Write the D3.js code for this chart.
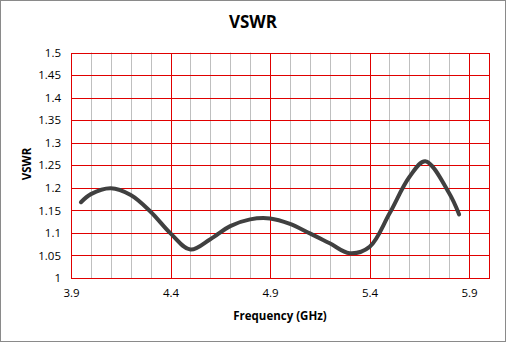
<!DOCTYPE html>
<html><head><meta charset="utf-8">
<script src="https://cdn.jsdelivr.net/npm/d3@7"></script>
<style>body{margin:0;background:#fff}svg{display:block}text{font-family:"Open Sans",Carlito,Calibri,sans-serif}</style>
</head><body>
<svg id="c" width="506" height="342"></svg>
<script>
const freq = [3.95, 4.0, 4.1, 4.2, 4.3, 4.4, 4.5, 4.6, 4.7, 4.8, 4.9, 5.0, 5.1, 5.2, 5.3, 5.4, 5.5, 5.6, 5.68, 5.8, 5.85];
const vswr = [1.168, 1.186, 1.199, 1.184, 1.147, 1.099, 1.063, 1.086, 1.115, 1.130, 1.132, 1.120, 1.099, 1.077, 1.055, 1.069, 1.143, 1.224, 1.259, 1.188, 1.141];
const xTicks = [3.9, 4.4, 4.9, 5.4, 5.9];
const yTicks = [1, 1.05, 1.1, 1.15, 1.2, 1.25, 1.3, 1.35, 1.4, 1.45, 1.5];
const minorX = [4.0, 4.1, 4.2, 4.3, 4.5, 4.6, 4.7, 4.8, 5.0, 5.1, 5.2, 5.3, 5.5, 5.6, 5.7, 5.8];
const majorX = [3.9, 4.4, 4.9, 5.4, 5.9, 6.0];

const svg = d3.select("#c");
const L = 71, R = 489, T = 52.5, B = 278;
const x = d3.scaleLinear().domain([3.9, 6.0]).range([L, R]);
const y = d3.scaleLinear().domain([1, 1.5]).range([B, T]);
const px = v => Math.round(v) + 0.5;

svg.append("rect").attr("x", 0.5).attr("y", 0.5).attr("width", 505).attr("height", 341)
  .attr("fill", "#fff").attr("stroke", "#8a8a8a");

svg.append("g").selectAll("line").data(minorX).join("line")
  .attr("x1", d => px(x(d))).attr("x2", d => px(x(d)))
  .attr("y1", T).attr("y2", B).attr("stroke", "#bfbfbf").attr("stroke-width", 1);
svg.append("g").selectAll("line").data(yTicks).join("line")
  .attr("x1", L).attr("x2", R + 1).attr("y1", d => px(y(d))).attr("y2", d => px(y(d)))
  .attr("stroke", "#e00000").attr("stroke-width", 1);
svg.append("g").selectAll("line").data(majorX).join("line")
  .attr("x1", d => px(x(d))).attr("x2", d => px(x(d)))
  .attr("y1", px(y(1.5))).attr("y2", px(y(1))).attr("stroke", "#e00000").attr("stroke-width", 1);

const xa = svg.append("g").attr("transform", `translate(0,${B})`)
  .call(d3.axisBottom(x).tickValues(xTicks).tickSize(0).tickPadding(11).tickFormat(d3.format("")));
xa.select(".domain").remove();
xa.selectAll("line").remove();
xa.selectAll("text").attr("font-size", 11.5).attr("fill", "#000");
const ya = svg.append("g").attr("transform", `translate(${L},0)`)
  .call(d3.axisLeft(y).tickValues(yTicks).tickSize(0).tickPadding(10).tickFormat(d3.format("")));
ya.select(".domain").remove();
ya.selectAll("line").remove();
ya.selectAll("text").attr("font-size", 11.5).attr("fill", "#000");

svg.append("path").datum(freq.map((f, i) => [f, vswr[i]]))
  .attr("fill", "none").attr("stroke", "#404040").attr("stroke-width", 4).attr("stroke-linecap", "round")
  .attr("d", d3.line().x(d => x(d[0])).y(d => y(d[1])).curve(d3.curveCatmullRom.alpha(0.5)));

svg.append("text").attr("x", 253).attr("y", 28).attr("text-anchor", "middle")
  .attr("font-size", 17).attr("font-weight", "bold").text("VSWR");
svg.append("text").attr("x", 280).attr("y", 320).attr("text-anchor", "middle")
  .attr("font-size", 11.5).attr("font-weight", "bold").text("Frequency (GHz)");
svg.append("text").attr("transform", "translate(31,164) rotate(-90)").attr("text-anchor", "middle")
  .attr("font-size", 11.5).attr("font-weight", "bold").text("VSWR");
</script>
</body></html>
